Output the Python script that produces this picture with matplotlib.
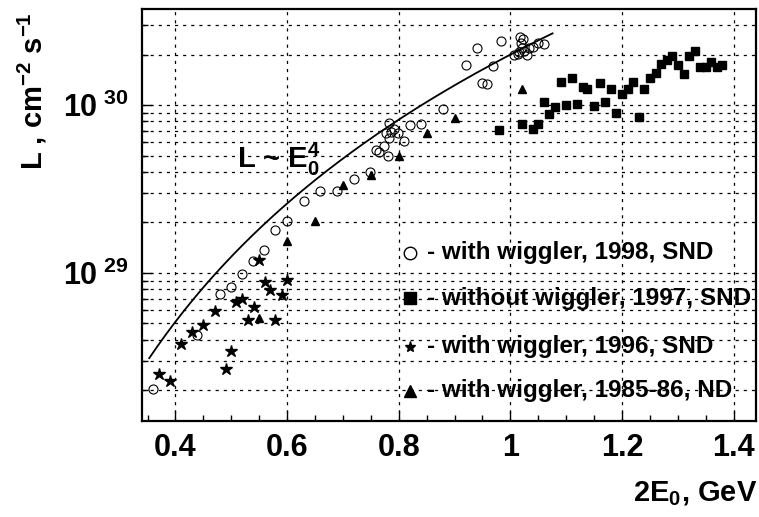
import numpy as np
import matplotlib
matplotlib.use("Agg")
import matplotlib.pyplot as plt
from matplotlib.ticker import FixedLocator, FixedFormatter, NullFormatter

plt.rcParams["font.family"] = ["Liberation Sans", "DejaVu Sans"]
plt.rcParams["font.weight"] = "bold"
plt.rcParams["mathtext.fontset"] = "custom"
for k in ("rm", "it", "bf", "sf"):
    plt.rcParams["mathtext." + k] = "Liberation Sans:bold"
plt.rcParams["mathtext.default"] = "rm"

# with wiggler, 1998, SND (open circles)
e98 = [0.360, 0.439, 0.479, 0.499, 0.520, 0.539, 0.559, 0.579, 0.599, 0.630, 0.659, 0.689,
       0.720, 0.749, 0.760, 0.764, 0.774, 0.780, 0.783, 0.777, 0.782, 0.786, 0.792, 0.799,
       0.809, 0.820, 0.839, 0.879, 0.920, 0.940, 0.950, 0.958, 0.969, 0.984, 1.017, 1.022,
       1.019, 1.020, 1.016, 1.025, 1.013, 1.007, 1.029, 1.034, 1.041, 1.050, 1.060]
l98 = [2.02e28, 4.25e28, 7.46e28, 8.29e28, 9.86e28, 1.18e29, 1.36e29, 1.80e29, 2.03e29,
       2.68e29, 3.06e29, 3.08e29, 3.64e29, 3.98e29, 5.39e29, 5.22e29, 5.69e29, 4.94e29,
       6.33e29, 6.84e29, 7.79e29, 6.93e29, 7.16e29, 6.78e29, 6.10e29, 7.57e29, 7.74e29,
       9.47e29, 1.73e30, 2.20e30, 1.35e30, 1.33e30, 1.70e30, 2.42e30, 2.53e30, 2.48e30,
       2.33e30, 2.18e30, 2.08e30, 2.11e30, 2.03e30, 1.99e30, 1.98e30, 2.18e30, 2.21e30,
       2.35e30, 2.30e30]

# without wiggler, 1997, SND (filled squares)
e97 = [0.980, 1.020, 1.040, 1.050, 1.060, 1.070, 1.080, 1.090, 1.100, 1.110, 1.120, 1.130,
       1.138, 1.150, 1.160, 1.170, 1.181, 1.190, 1.200, 1.210, 1.220, 1.231, 1.240, 1.250,
       1.261, 1.270, 1.281, 1.290, 1.300, 1.311, 1.320, 1.331, 1.340, 1.350, 1.360, 1.370,
       1.380]
l97 = [7.10e29, 7.67e29, 7.23e29, 7.71e29, 1.05e30, 8.80e29, 9.73e29, 1.37e30, 1.00e30,
       1.46e30, 1.02e30, 1.28e30, 1.25e30, 9.87e29, 1.36e30, 1.05e30, 1.24e30, 9.00e29,
       1.17e30, 1.24e30, 1.38e30, 8.45e29, 1.24e30, 1.45e30, 1.56e30, 1.75e30, 1.87e30,
       1.97e30, 1.73e30, 1.54e30, 1.97e30, 2.10e30, 1.69e30, 1.69e30, 1.80e30, 1.69e30,
       1.73e30]

# with wiggler, 1996, SND (stars)
e96 = [0.370, 0.390, 0.410, 0.430, 0.449, 0.470, 0.490, 0.500, 0.509, 0.520, 0.530, 0.540,
       0.550, 0.560, 0.570, 0.579, 0.590, 0.600]
l96 = [2.49e28, 2.26e28, 3.76e28, 4.42e28, 4.88e28, 5.92e28, 2.68e28, 3.43e28, 6.71e28,
       6.97e28, 5.23e28, 6.27e28, 1.19e29, 8.84e28, 7.96e28, 5.23e28, 7.36e28, 9.04e28]

# with wiggler, 1985-86, ND (filled triangles)
e85 = [0.550, 0.600, 0.650, 0.700, 0.750, 0.800, 0.850, 0.900, 1.020]
l85 = [5.35e28, 1.55e29, 2.04e29, 3.33e29, 3.81e29, 4.99e29, 6.78e29, 8.40e29, 1.24e30]

# L ~ E0^4 curve
curve_norm = 2.0e30
curve_range = (0.353, 1.0755)

legend_labels = ["- with wiggler, 1998, SND", "- without wiggler, 1997, SND",
                 "- with wiggler, 1996, SND", "- with wiggler, 1985-86, ND"]

fig = plt.figure(figsize=(7.59, 5.17), dpi=100)
ax = fig.add_axes([0.1871, 0.1857, 0.8089, 0.7969])

ec = np.linspace(curve_range[0], curve_range[1], 200)
ax.plot(ec, curve_norm * ec**4, color="black", lw=1.3, zorder=3)

ax.plot(e98, l98, ls="none", marker="o", ms=6.5, mfc="none", mec="black", mew=0.8, zorder=4)
ax.plot(e97, l97, ls="none", marker="s", ms=5.2, color="black", zorder=4)
ax.plot(e96, l96, ls="none", marker="*", ms=9, color="black", zorder=4)
ax.plot(e85, l85, ls="none", marker="^", ms=5.5, color="black", zorder=4)

ax.set_yscale("log")
ax.set_xlim(0.34, 1.44)
ax.set_ylim(1.31e28, 3.74e30)

ax.xaxis.set_major_locator(FixedLocator([0.4, 0.6, 0.8, 1.0, 1.2, 1.4]))
ax.xaxis.set_major_formatter(FixedFormatter(["0.4", "0.6", "0.8", "1", "1.2", "1.4"]))
ax.xaxis.set_minor_locator(FixedLocator(np.arange(0.35, 1.44, 0.05)))
ax.yaxis.set_major_locator(FixedLocator([1e29, 1e30]))
ax.yaxis.set_major_formatter(FixedFormatter([r"$10^{\ 29}$", r"$10^{\ 30}$"]))
ax.yaxis.set_minor_locator(FixedLocator([m * 10.0**d for d in (28, 29, 30) for m in range(2, 10)]))
ax.yaxis.set_minor_formatter(NullFormatter())

ax.tick_params(which="both", direction="in", top=False, right=False, width=1.0)
ax.tick_params(which="major", length=7)
ax.tick_params(which="minor", length=4)
ax.tick_params(axis="x", which="major", labelsize=22, pad=9)
ax.tick_params(axis="y", which="major", labelsize=22, pad=10)

grid_kw = dict(color="black", lw=0.9, ls=(0, (2.5, 4)))
ax.grid(True, axis="x", which="major", **grid_kw)
ax.grid(True, axis="y", which="both", **grid_kw)
for s in ax.spines.values():
    s.set_linewidth(1.6)

ax.text(0.155, 0.615, r"L ~ E$_0^4$", transform=ax.transAxes, fontsize=21,
        ha="left", va="baseline", zorder=1)

rows_y = [0.408, 0.2985, 0.1796, 0.0728]
leg_style = [dict(marker="o", ms=9, mfc="none", mec="black", mew=1.0),
             dict(marker="s", ms=8.5, color="black"),
             dict(marker="*", ms=8, color="black"),
             dict(marker="^", ms=8.5, color="black")]
for y, lab, st in zip(rows_y, legend_labels, leg_style):
    ax.plot([0.4365], [y], ls="none", transform=ax.transAxes, clip_on=False, zorder=4, **st)
    ax.text(0.464, y, lab, transform=ax.transAxes, fontsize=17.5, ha="left", va="center",
            zorder=1)

fig.text(757 / 759, 1 - 501 / 517, r"2E$_0$, GeV", fontsize=21, ha="right", va="baseline")
fig.text(32 / 759, 1 - 12 / 517, r"L , cm$^{-2}$ s$^{-1}$", fontsize=21, rotation=90,
         ha="center", va="top")

fig.savefig("out.png", dpi=100, facecolor="white")
